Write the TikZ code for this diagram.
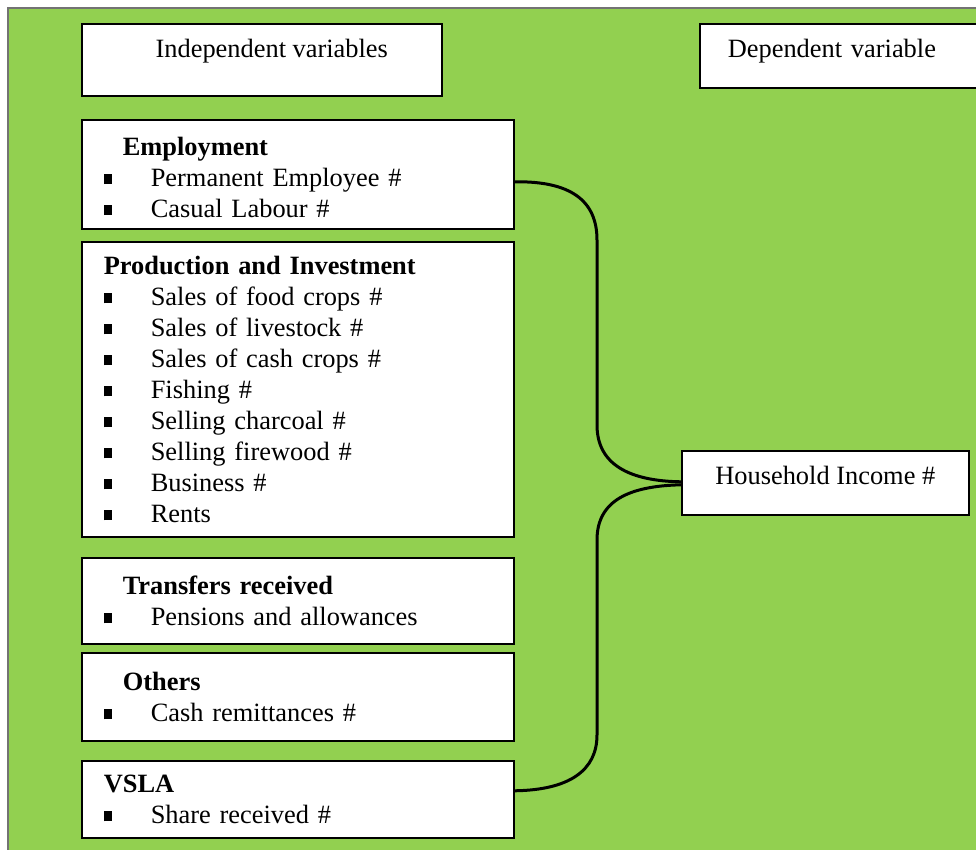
\documentclass[tikz,border=0pt]{standalone}
\usepackage{fontspec}
\setmainfont{Liberation Serif}
\usepackage{tikz}
\definecolor{light-green}{RGB}{146,208,80}
\definecolor{frame-gray}{gray}{0.45}
\newcommand{\bitem}[1]{\hspace*{11pt}\rule[1pt]{4pt}{5pt}\hspace{19.5pt}#1}

\begin{document}
\begin{tikzpicture}[x=0.5pt,y=0.5pt,
		varbox/.style={draw, fill=white, line width=0.8pt, anchor=north west, inner sep=0pt, font=\fontsize{13.2}{15.5}\selectfont},
		listbox/.style={varbox, minimum width=216pt, text width=216pt, align=left},
		brace/.style={line width=1.5pt}]
			\useasboundingbox (0,0) rectangle (976,-850);
			\fill[white] (0,0) rectangle (976,-850);
			\filldraw[light-green, draw=frame-gray, line width=1pt] (8,-8) rectangle (1000,-870);

			\node[varbox, minimum width=180pt, text height=17pt, text depth=19pt] (indep) at (81,-23) {\hspace*{10pt}Independent variables};
			\node[varbox, minimum width=150pt, text width=136pt, align=left, inner xsep=14pt, text height=17pt, text depth=15pt] (dep) at (699,-23) {Dependent variable};

			\node[listbox, minimum height=54.5pt, text height=12pt] (emp) at (81,-119) {\hspace*{20.5pt}\textbf{Employment}\\ \bitem{Permanent Employee \#}\\ \bitem{Casual Labour \#}};
			\node[listbox, minimum height=147.5pt] (prod) at (81,-241) {\hspace*{11pt}\textbf{Production and Investment}\\ \bitem{Sales of food crops \#}\\ \bitem{Sales of livestock \#}\\ \bitem{Sales of cash crops \#}\\ \bitem{Fishing \#}\\ \bitem{Selling charcoal \#}\\ \bitem{Selling firewood \#}\\ \bitem{Business \#}\\ \bitem{Rents}};
			\node[listbox, minimum height=43pt] (trans) at (81,-557) {\hspace*{20.5pt}\textbf{Transfers received}\\ \bitem{Pensions and allowances}};
			\node[listbox, minimum height=44pt] (oth) at (81,-652) {\hspace*{20.5pt}\textbf{Others}\\ \bitem{Cash remittances \#}};
			\node[listbox, minimum height=38.5pt] (vsla) at (81,-760) {\hspace*{11pt}\textbf{VSLA}\\ \bitem{Share received \#}};

			\node[varbox, minimum width=143.5pt, text height=17pt, text depth=15pt] (hh) at (681,-450) {Household Income \#};

			\draw[brace] ([yshift=-3.75pt]emp.east) .. controls (570,-181) and (597,-200) .. (597,-240) -- (597,-425) .. controls (597,-465) and (630,-481) .. ([yshift=0.5pt]hh.west);
			\draw[brace] ([yshift=-1pt]hh.west) .. controls (630,-486) and (597,-500) .. (597,-540) -- (597,-735) .. controls (597,-770) and (570,-790) .. ([yshift=4.25pt]vsla.east);
		\end{tikzpicture}
\end{document}
